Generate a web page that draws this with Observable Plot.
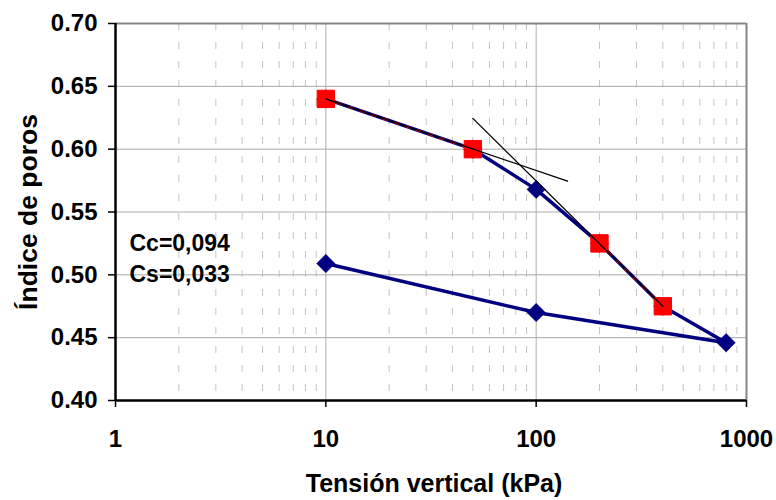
<!DOCTYPE html>
<html>
<head>
<meta charset="utf-8">
<script src="https://cdn.jsdelivr.net/npm/d3@7"></script>
<script src="https://cdn.jsdelivr.net/npm/@observablehq/plot@0.6"></script>
<style>
  body { margin: 0; background: #fff; }
  #chart svg { font-family: "Liberation Sans", Arial, sans-serif; font-weight: bold; }
</style>
</head>
<body>
<div id="chart"></div>
<script>
// Oedometer test: void ratio against vertical stress (log scale),
// loading 10 → 800 kPa followed by unloading back to 10 kPa.
const stress    = [10, 50, 100, 200, 400, 800, 100, 10];
const voidRatio = [0.640, 0.600, 0.568, 0.525, 0.475, 0.446, 0.470, 0.509];

// Points used for the two slope fits (red squares) and the fit they belong to
const fitStress = [10, 50, 200, 400];
const fitVoid   = [0.640, 0.600, 0.525, 0.475];
const fitGroup  = ["Cs", "Cs", "Cc", "Cc"];

// Tangent construction lines (end points of each straight line)
const tangentStress = [10, 141, 50, 400];
const tangentVoid   = [0.640, 0.5745, 0.6245, 0.475];
const tangentGroup  = ["recompression", "recompression", "virgin", "virgin"];

// Axes
const xTicks = [1, 10, 100, 1000];
const xMinor = [2, 3, 4, 5, 6, 7, 8, 9, 20, 30, 40, 50, 60, 70, 80, 90, 200, 300, 400, 500, 600, 700, 800, 900];
const yTicks = [0.40, 0.45, 0.50, 0.55, 0.60, 0.65, 0.70];

// Coefficients printed on the chart
const noteText = ["Cc=0,094", "Cs=0,033"];
const noteVoid = [0.525, 0.500];

const xTitle = "Tensión vertical (kPa)";
const yTitle = "Índice de poros";

const curve    = stress.map((x, i) => ({x, y: voidRatio[i]}));
const fits     = fitStress.map((x, i) => ({x, y: fitVoid[i], g: fitGroup[i]}));
const tangents = tangentStress.map((x, i) => ({x, y: tangentVoid[i], g: tangentGroup[i]}));
const notes    = noteText.map((t, i) => ({t, y: noteVoid[i]}));

const chart = Plot.plot({
  width: 776,
  height: 500,
  marginLeft: 115,
  marginRight: 30,
  marginTop: 23,
  marginBottom: 100,
  x: {type: "log", domain: [1, 1000]},
  y: {domain: [0.40, 0.70]},
  style: {
    fontFamily: '"Liberation Sans", Arial, sans-serif',
    fontWeight: "bold",
    fontSize: "24px",
    color: "#000",
    background: "#fff",
    overflow: "visible"
  },
  marks: [
    // grid
    Plot.ruleX(xMinor, {stroke: "#c4c4c4", strokeWidth: 1, strokeDasharray: "7,12"}),
    Plot.ruleX([10, 100], {stroke: "#b0b0b0", strokeWidth: 1}),
    Plot.ruleY(yTicks.slice(1, -1), {stroke: "#a8a8a8", strokeWidth: 1}),
    // plot-area border (top and right)
    Plot.ruleY([0.70], {stroke: "#868686", strokeWidth: 2}),
    Plot.ruleX([1000], {stroke: "#868686", strokeWidth: 2}),
    // axes
    Plot.axisY({ticks: yTicks, tickFormat: d3.format(".2f"), tickSize: 7, tickPadding: 11,
                label: null, fontSize: 24, stroke: "#000", strokeWidth: 1.5}),
    Plot.axisX({ticks: xTicks, tickFormat: d => String(d), tickSize: 7, tickPadding: 22,
                label: null, fontSize: 24, stroke: "#000", strokeWidth: 1.5}),
    Plot.ruleX([1], {stroke: "#000", strokeWidth: 2.5}),
    Plot.ruleY([0.40], {x1: 1, x2: 1000, stroke: "#000", strokeWidth: 2.5}),
    // measured curve
    Plot.line(curve, {x: "x", y: "y", stroke: "#000080", strokeWidth: 3.5}),
    Plot.dot(curve, {x: "x", y: "y", symbol: "diamond2", r: 8.3, fill: "#000080", stroke: "#000080", strokeWidth: 0.5}),
    // fitted segments
    Plot.line(fits, {x: "x", y: "y", z: "g", stroke: "#ff0000", strokeWidth: 2, strokeDasharray: "5,7"}),
    Plot.dot(fits, {x: "x", y: "y", symbol: "square", r: 9.8, fill: "#ff0000", stroke: "#ff0000", strokeWidth: 1, strokeLinejoin: "round"}),
    // tangent lines
    Plot.line(tangents, {x: "x", y: "y", z: "g", stroke: "#000", strokeWidth: 1.3}),
    // coefficients
    Plot.text(notes, {y: "y", text: "t", frameAnchor: "left", dx: 14, textAnchor: "start", lineAnchor: "middle", fontSize: 23, fontWeight: "bold"}),
    // axis titles
    Plot.text([xTitle], {frameAnchor: "bottom", dx: 3, dy: 83, textAnchor: "middle", lineAnchor: "middle", fontSize: 25, fontWeight: "bold"}),
    Plot.text([yTitle], {frameAnchor: "left", dx: -87, rotate: -90, textAnchor: "middle", lineAnchor: "middle", fontSize: 26.5, fontWeight: "bold"})
  ]
});

document.getElementById("chart").append(chart);
</script>
</body>
</html>
